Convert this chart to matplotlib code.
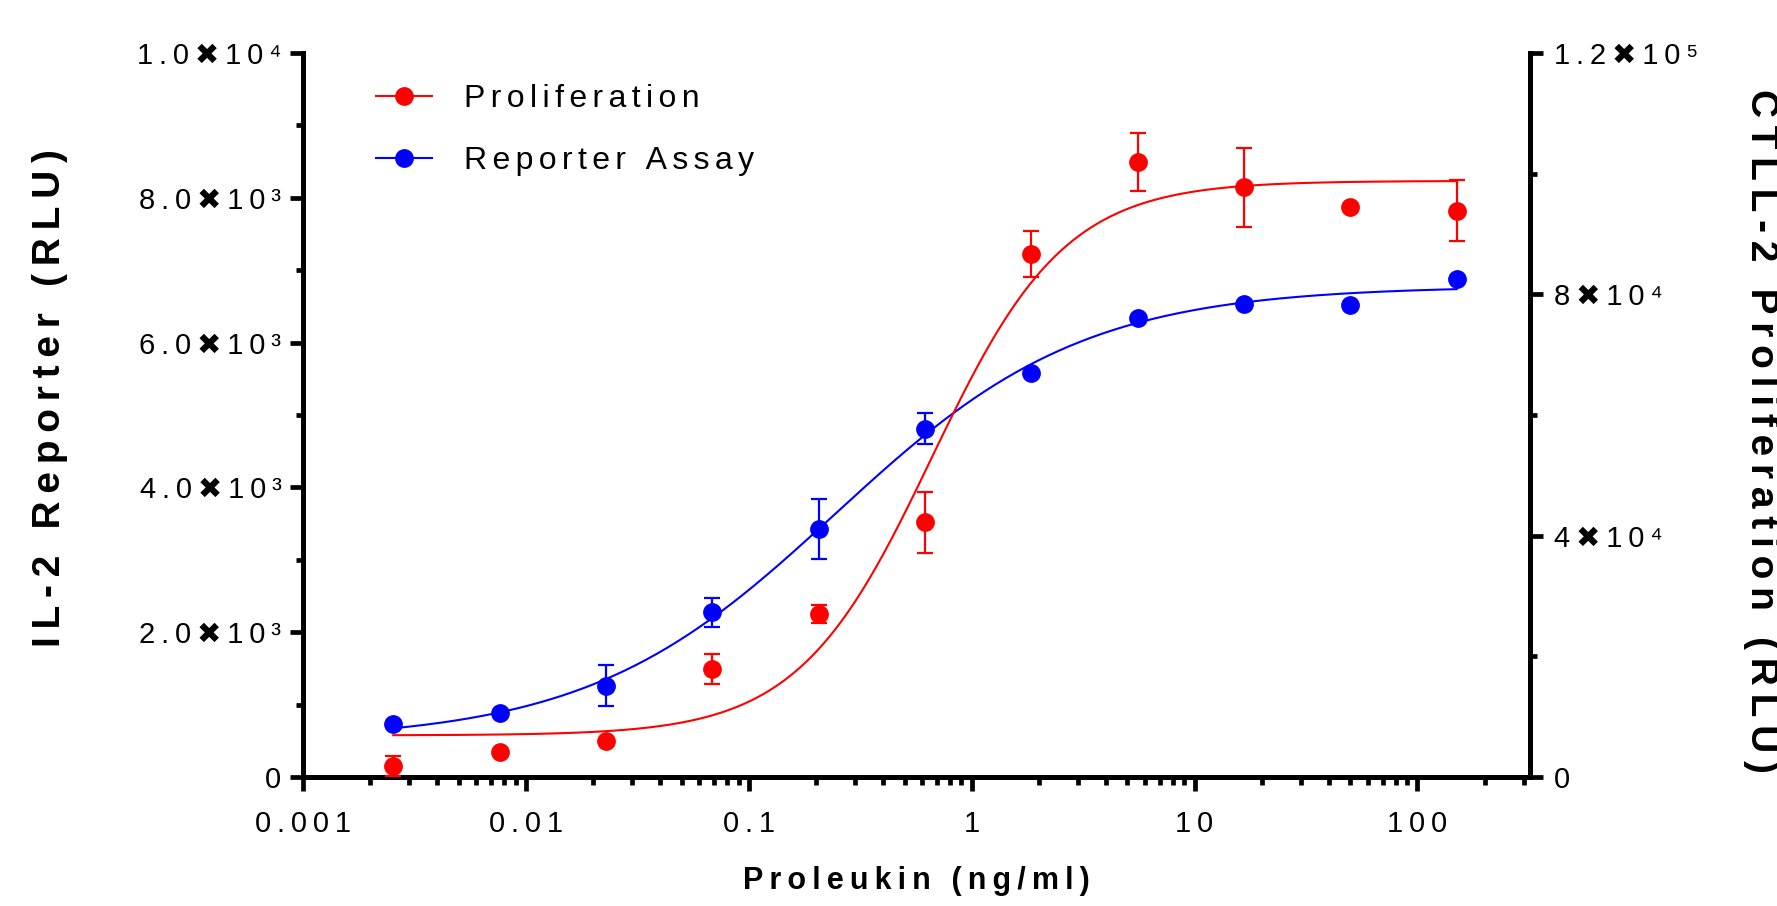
import numpy as np
import matplotlib.pyplot as plt
from matplotlib.lines import Line2D
from matplotlib.ticker import FixedLocator, LogLocator, NullFormatter

plt.rcParams['font.family'] = ['Liberation Sans', 'DejaVu Sans']

########################################################
# DATA
########################################################

conc = [0.00254, 0.00762, 0.0229, 0.0686, 0.206, 0.617, 1.85, 5.56, 16.7, 50, 150]

# IL-2 reporter assay (left axis, RLU)
reporter_mean = [728, 888, 1261, 2275, 3425, 4811, 5576, 6340, 6529, 6515, 6883]
reporter_err = [0, 0, 280, 200, 412, 214, 0, 0, 0, 0, 0]

# CTLL-2 proliferation (right axis, RLU)
prolif_mean = [1820, 4190, 5920, 17850, 26970, 42220, 86690, 101930, 97740, 94530, 93860]
prolif_err = [1600, 0, 0, 2490, 1460, 5080, 3810, 4840, 6510, 0, 5080]

# 4PL fit parameters: bottom, top, logEC50, hill slope
reporter_fit = [500, 6780, -0.61, 0.78]
prolif_fit = [6900, 98800, -0.18, 1.45]

x_ticks = [0.001, 0.01, 0.1, 1, 10, 100]
x_ticklabels = ["0.001", "0.01", "0.1", "1", "10", "100"]
left_ticks = [0, 2000, 4000, 6000, 8000, 10000]
left_ticklabels = ["0", "2.0\u271610\u00b3", "4.0\u271610\u00b3", "6.0\u271610\u00b3",
                   "8.0\u271610\u00b3", "1.0\u271610\u2074"]
right_ticks = [0, 40000, 80000, 120000]
right_ticklabels = ["0", "4\u271610\u2074", "8\u271610\u2074", "1.2\u271610\u2075"]

RED = "#ff0000"
BLUE = "#0000ff"

########################################################
# HELPERS
########################################################

def spaced(s, sp="\u2009"):
    # prism export draws text letter-spaced
    return sp.join(s)


def four_pl(x, p):
    bottom, top, logec50, hill = p
    return bottom + (top - bottom) / (1 + 10 ** ((logec50 - np.log10(x)) * hill))

########################################################
# FIGURE
########################################################

W, H = 1777, 906
fig = plt.figure(figsize=(W / 100, H / 100), dpi=100)

ax = fig.add_axes([303 / W, 1 - 777 / H, (1530 - 303) / W, (777 - 53) / H])
ax2 = ax.twinx()

x_fit = np.logspace(np.log10(conc[0]), np.log10(conc[-1]), 400)

# reporter on left axis
ax.plot(x_fit, four_pl(x_fit, reporter_fit), color=BLUE, lw=1.5)
ax.errorbar(conc, reporter_mean, yerr=reporter_err, fmt="o", color=BLUE,
            ms=12.5, elinewidth=1.6, capsize=5.8, capthick=1.6)

# proliferation on right axis
ax2.plot(x_fit, four_pl(x_fit, prolif_fit), color=RED, lw=1.5)
ax2.errorbar(conc, prolif_mean, yerr=prolif_err, fmt="o", color=RED,
             ms=12.5, elinewidth=1.6, capsize=5.8, capthick=1.6)

ax.set_xscale("log")
ax.set_xlim(0.001, 320)
ax.set_ylim(0, 10000)
ax2.set_ylim(0, 120000)

ax.xaxis.set_major_locator(FixedLocator(x_ticks))
ax.set_xticklabels([spaced(t) for t in x_ticklabels])
ax.xaxis.set_minor_locator(LogLocator(base=10, subs=np.arange(2, 10)))
ax.xaxis.set_minor_formatter(NullFormatter())

ax.yaxis.set_major_locator(FixedLocator(left_ticks))
ax.set_yticklabels([spaced(t) for t in left_ticklabels])
ax.yaxis.set_minor_locator(FixedLocator([1000, 3000, 5000, 7000, 9000]))

ax2.yaxis.set_major_locator(FixedLocator(right_ticks))
ax2.set_yticklabels([spaced(t) for t in right_ticklabels])
ax2.yaxis.set_minor_locator(FixedLocator([20000, 60000, 100000]))

for a in (ax, ax2):
    a.spines["top"].set_visible(False)
    for s in a.spines.values():
        s.set_linewidth(3.6)
ax.spines["right"].set_visible(False)
ax2.spines["left"].set_visible(False)
ax2.spines["bottom"].set_visible(False)

ax.tick_params(axis="x", which="major", length=10, width=3.4, labelsize=21, pad=14)
ax.tick_params(axis="x", which="minor", length=5.5, width=3.4)
ax.tick_params(axis="y", which="major", length=9.5, width=3.4, labelsize=21, pad=6)
ax.tick_params(axis="y", which="minor", length=5, width=3.4)
ax2.tick_params(axis="y", which="major", length=9.5, width=3.4, labelsize=21, pad=8)
ax2.tick_params(axis="y", which="minor", length=5, width=3.4)

########################################################
# LABELS
########################################################

ax.set_xlabel(spaced("Proleukin (ng/ml)"), fontsize=22, fontweight="bold",
              ha="center", va="center")
ax.xaxis.set_label_coords(916 / W, 1 - 881 / H, transform=fig.transFigure)

ax.set_ylabel(spaced("IL-2 Reporter (RLU)"), fontsize=28, fontweight="bold",
              ha="center", va="center")
ax.yaxis.set_label_coords(50 / W, 1 - 398 / H, transform=fig.transFigure)

ax2.set_ylabel(spaced("CTLL-2 Proliferation (RLU)"), fontsize=28, fontweight="bold",
               rotation=270, ha="center", va="center")
ax2.yaxis.set_label_coords(1761 / W, 1 - 431 / H, transform=fig.transFigure)

########################################################
# LEGEND
########################################################

handles = [
    Line2D([], [], color=RED, marker="o", ms=12.5, lw=1.5),
    Line2D([], [], color=BLUE, marker="o", ms=12.5, lw=1.5),
]
ax2.legend(handles, [spaced("Proliferation", "\u2006"), spaced("Reporter Assay", "\u2006")],
           loc="upper left", bbox_to_anchor=(376 / W, 1 - 84 / H),
           bbox_transform=fig.transFigure, frameon=False, fontsize=23,
           borderpad=0, borderaxespad=0, handlelength=1.75, handletextpad=1.0,
           labelspacing=1.0)

plt.savefig("out.png", dpi=100)
